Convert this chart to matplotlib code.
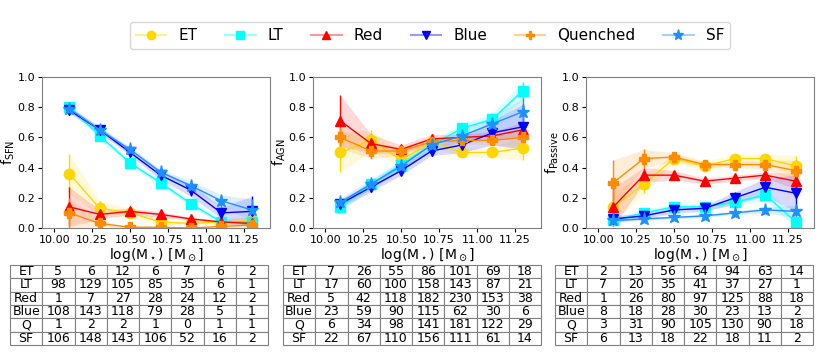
import matplotlib
matplotlib.use("Agg")
import matplotlib.pyplot as plt
from matplotlib.lines import Line2D

# mass bins
mass = [10.1, 10.3, 10.5, 10.7, 10.9, 11.1, 11.3]

names = ["ET", "LT", "Red", "Blue", "Quenched", "SF"]
row_labels = ["ET", "LT", "Red", "Blue", "Q", "SF"]
colors = ["#FFD700", "#00FFFF", "#FF0000", "#0000FF", "#FF8C00", "#1E90FF"]
markers = ["o", "s", "^", "v", "P", "*"]

# SFN fractions and errors
sfn_ET = [0.36, 0.13, 0.10, 0.04, 0.03, 0.04, 0.05]
sfn_LT = [0.80, 0.61, 0.43, 0.30, 0.16, 0.04, 0.04]
sfn_Red = [0.14, 0.09, 0.11, 0.09, 0.06, 0.04, 0.03]
sfn_Blue = [0.78, 0.65, 0.50, 0.35, 0.25, 0.10, 0.11]
sfn_Q = [0.10, 0.03, 0.005, 0.005, 0.0, 0.01, 0.02]
sfn_SF = [0.79, 0.65, 0.52, 0.37, 0.28, 0.18, 0.12]
sfn_err_ET = [0.13, 0.05, 0.03, 0.02, 0.01, 0.02, 0.03]
sfn_err_LT = [0.02, 0.02, 0.02, 0.02, 0.02, 0.02, 0.03]
sfn_err_Red = [0.13, 0.03, 0.02, 0.02, 0.01, 0.01, 0.02]
sfn_err_Blue = [0.02, 0.02, 0.02, 0.03, 0.04, 0.04, 0.10]
sfn_err_Q = [0.10, 0.02, 0.005, 0.005, 0.0, 0.01, 0.02]
sfn_err_SF = [0.02, 0.02, 0.02, 0.02, 0.03, 0.04, 0.07]

# AGN fractions and errors
agn_ET = [0.50, 0.58, 0.45, 0.57, 0.50, 0.50, 0.53]
agn_LT = [0.14, 0.29, 0.42, 0.55, 0.66, 0.72, 0.91]
agn_Red = [0.71, 0.56, 0.52, 0.59, 0.60, 0.61, 0.65]
agn_Blue = [0.16, 0.27, 0.38, 0.51, 0.55, 0.63, 0.67]
agn_Q = [0.60, 0.51, 0.51, 0.57, 0.58, 0.58, 0.60]
agn_SF = [0.17, 0.29, 0.41, 0.55, 0.61, 0.69, 0.77]
agn_err_ET = [0.13, 0.07, 0.04, 0.03, 0.03, 0.03, 0.08]
agn_err_LT = [0.03, 0.03, 0.03, 0.03, 0.03, 0.04, 0.06]
agn_err_Red = [0.17, 0.06, 0.03, 0.03, 0.02, 0.03, 0.05]
agn_err_Blue = [0.03, 0.03, 0.03, 0.03, 0.05, 0.08, 0.15]
agn_err_Q = [0.07, 0.05, 0.03, 0.03, 0.02, 0.03, 0.06]
agn_err_SF = [0.03, 0.03, 0.03, 0.03, 0.04, 0.05, 0.09]

# Passive fractions and errors
pas_ET = [0.14, 0.29, 0.46, 0.41, 0.46, 0.46, 0.41]
pas_LT = [0.05, 0.10, 0.14, 0.14, 0.17, 0.22, 0.04]
pas_Red = [0.14, 0.35, 0.35, 0.31, 0.33, 0.35, 0.31]
pas_Blue = [0.06, 0.08, 0.12, 0.13, 0.20, 0.27, 0.23]
pas_Q = [0.30, 0.46, 0.47, 0.42, 0.42, 0.42, 0.38]
pas_SF = [0.05, 0.06, 0.07, 0.08, 0.10, 0.12, 0.11]
pas_err_ET = [0.10, 0.06, 0.03, 0.03, 0.03, 0.03, 0.07]
pas_err_LT = [0.02, 0.02, 0.02, 0.02, 0.02, 0.04, 0.04]
pas_err_Red = [0.13, 0.05, 0.03, 0.02, 0.02, 0.02, 0.05]
pas_err_Blue = [0.02, 0.02, 0.02, 0.02, 0.04, 0.06, 0.12]
pas_err_Q = [0.15, 0.06, 0.03, 0.02, 0.02, 0.03, 0.07]
pas_err_SF = [0.01, 0.01, 0.01, 0.01, 0.01, 0.02, 0.04]

# number counts in each bin
n_sfn = [[5, 6, 12, 6, 7, 6, 2],
         [98, 129, 105, 85, 35, 6, 1],
         [1, 7, 27, 28, 24, 12, 2],
         [108, 143, 118, 79, 28, 5, 1],
         [1, 2, 2, 1, 0, 1, 1],
         [106, 148, 143, 106, 52, 16, 2]]
n_agn = [[7, 26, 55, 86, 101, 69, 18],
         [17, 60, 100, 158, 143, 87, 21],
         [5, 42, 118, 182, 230, 153, 38],
         [23, 59, 90, 115, 62, 30, 6],
         [6, 34, 98, 141, 181, 122, 29],
         [22, 67, 110, 156, 111, 61, 14]]
n_pas = [[2, 13, 56, 64, 94, 63, 14],
         [7, 20, 35, 41, 37, 27, 1],
         [1, 26, 80, 97, 125, 88, 18],
         [8, 18, 28, 30, 23, 13, 2],
         [3, 31, 90, 105, 130, 90, 18],
         [6, 13, 18, 22, 18, 11, 2]]

panels = [
    ("f$_{\\rm SFN}$", [sfn_ET, sfn_LT, sfn_Red, sfn_Blue, sfn_Q, sfn_SF],
     [sfn_err_ET, sfn_err_LT, sfn_err_Red, sfn_err_Blue, sfn_err_Q, sfn_err_SF], n_sfn),
    ("f$_{\\rm AGN}$", [agn_ET, agn_LT, agn_Red, agn_Blue, agn_Q, agn_SF],
     [agn_err_ET, agn_err_LT, agn_err_Red, agn_err_Blue, agn_err_Q, agn_err_SF], n_agn),
    ("f$_{\\rm Passive}$", [pas_ET, pas_LT, pas_Red, pas_Blue, pas_Q, pas_SF],
     [pas_err_ET, pas_err_LT, pas_err_Red, pas_err_Blue, pas_err_Q, pas_err_SF], n_pas),
]

fig = plt.figure(figsize=(8.3, 3.6), dpi=100)
W, H = 830.0, 360.0
ax_left = [42, 313, 586]
tab_left = [10, 283, 555]

for i, (ylab, fracs, errs, counts) in enumerate(panels):
    ax = fig.add_axes([ax_left[i] / W, 1 - 228 / H, 228 / W, 151 / H])
    for f, e, c, m in zip(fracs, errs, colors, markers):
        lo = [a - b for a, b in zip(f, e)]
        hi = [a + b for a, b in zip(f, e)]
        ax.fill_between(mass, lo, hi, color=c, alpha=0.15, lw=0)
        ms = 9.5 if m == "*" else 7.5
        ax.errorbar(mass, f, yerr=e, color=c, marker=m, ms=ms, lw=1, elinewidth=1)
    ax.set_xlim(9.92, 11.42)
    ax.set_ylim(0, 1)
    ax.set_xticks([10.0, 10.25, 10.5, 10.75, 11.0, 11.25])
    ax.set_xticklabels(["10.00", "10.25", "10.50", "10.75", "11.00", "11.25"])
    ax.set_yticks([0, 0.2, 0.4, 0.6, 0.8, 1.0])
    ax.tick_params(labelsize=8, length=3, pad=2)
    for s in ax.spines.values():
        s.set_color("#808080")
    ax.set_xlabel("log(M$_\\star$) [M$_\\odot$]", fontsize=10, labelpad=1)
    ax.set_ylabel(ylab, fontsize=10, labelpad=0)

    # table of counts under each panel
    tax = fig.add_axes([tab_left[i] / W, 1 - 345 / H, 258 / W, 80 / H])
    tax.axis("off")
    cells = [[lab] + [str(v) for v in row] for lab, row in zip(row_labels, counts)]
    tb = tax.table(cellText=cells, cellLoc="center", bbox=[0, 0, 1, 1])
    tb.auto_set_font_size(False)
    tb.set_fontsize(9)
    for cell in tb.get_celld().values():
        cell.set_edgecolor("#808080")
        cell.set_linewidth(0.8)

# legend: faded line with solid marker
handles = []
for c, m in zip(colors, markers):
    ln = Line2D([], [], color=c, lw=1.5, alpha=0.4)
    mk = Line2D([], [], color=c, marker=m, ms=(8 if m == "*" else 6), lw=0)
    handles.append((ln, mk))
fig.legend(handles, names, loc="center", bbox_to_anchor=(430 / W, 1 - 35.5 / H),
           ncol=6, fontsize=11, frameon=True, handlelength=2.0, columnspacing=1.8)

fig.savefig("out.png", dpi=100)
